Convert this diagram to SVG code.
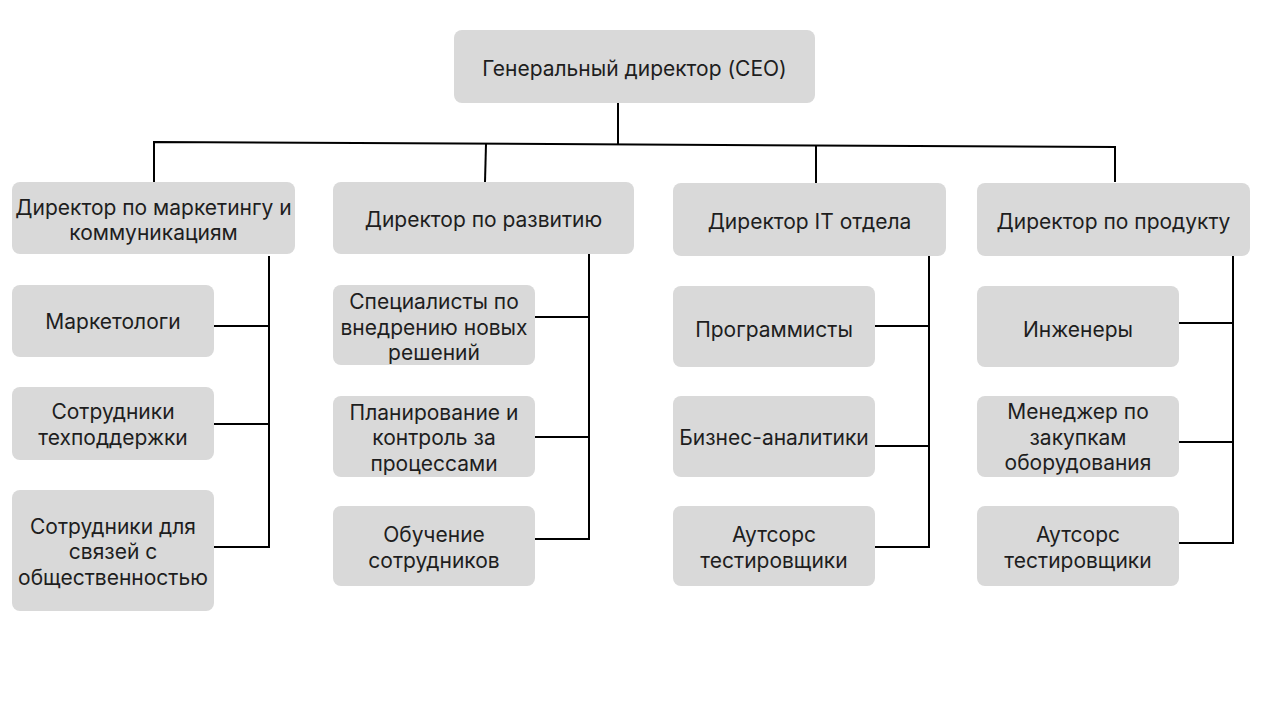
<svg xmlns="http://www.w3.org/2000/svg" width="1265" height="711" viewBox="0 0 1265 711">
<style>
.box{fill:#d9d9d9}
text{font-family:Inter,"Liberation Sans",sans-serif;font-size:21px;fill:#1e1e1e;text-anchor:middle}
.ln{stroke:#000;stroke-width:2;fill:none}
</style>
<rect width="1265" height="711" fill="#fff"/>
<g id="connectors">
<polyline class="ln" points="618,103 618,144"/>
<polyline class="ln" points="154,182 154,142 1115,147 1115,182"/>
<line class="ln" x1="486" y1="144" x2="485" y2="182"/>
<line class="ln" x1="816" y1="146" x2="816" y2="183"/>
<polyline class="ln" points="269,256 269,547 214,547"/>
<line class="ln" x1="214" y1="326" x2="269" y2="326"/>
<line class="ln" x1="214" y1="424" x2="269" y2="424"/>
<polyline class="ln" points="589,248 589,539 535,539"/>
<line class="ln" x1="535" y1="317" x2="589" y2="317"/>
<line class="ln" x1="535" y1="437" x2="589" y2="437"/>
<polyline class="ln" points="929,256 929,547 875,547"/>
<line class="ln" x1="875" y1="326" x2="929" y2="326"/>
<line class="ln" x1="875" y1="446" x2="929" y2="446"/>
<polyline class="ln" points="1233,253 1233,543 1179,543"/>
<line class="ln" x1="1179" y1="323" x2="1233" y2="323"/>
<line class="ln" x1="1179" y1="442" x2="1233" y2="442"/>
</g>
<g id="ceo"><rect class="box" x="454" y="30" width="361" height="73" rx="8"/><text x="634.5" y="76">Генеральный директор (CEO)</text></g>
<g id="dir-marketing"><rect class="box" x="12" y="182" width="283" height="72" rx="8"/><text x="153.5" y="215">Директор по маркетингу и</text><text x="153.5" y="240">коммуникациям</text></g>
<g id="marketologi"><rect class="box" x="12" y="285" width="202" height="72" rx="8"/><text x="113" y="329">Маркетологи</text></g>
<g id="support"><rect class="box" x="12" y="387" width="202" height="73" rx="8"/><text x="113" y="419">Сотрудники</text><text x="113" y="445">техподдержки</text></g>
<g id="pr"><rect class="box" x="12" y="490" width="202" height="121" rx="8"/><text x="113" y="534">Сотрудники для</text><text x="113" y="559">связей с</text><text x="113" y="585">общественностью</text></g>
<g id="dir-dev"><rect class="box" x="333" y="182" width="301" height="72" rx="8"/><text x="483.5" y="227">Директор по развитию</text></g>
<g id="specialists"><rect class="box" x="333" y="285" width="202" height="80" rx="8"/><text x="434" y="309">Специалисты по</text><text x="434" y="335">внедрению новых</text><text x="434" y="360">решений</text></g>
<g id="planning"><rect class="box" x="333" y="396" width="202" height="81" rx="8"/><text x="434" y="420">Планирование и</text><text x="434" y="445">контроль за</text><text x="434" y="471">процессами</text></g>
<g id="training"><rect class="box" x="333" y="506" width="202" height="80" rx="8"/><text x="434" y="542">Обучение</text><text x="434" y="568">сотрудников</text></g>
<g id="dir-it"><rect class="box" x="673" y="183" width="273" height="73" rx="8"/><text x="809.5" y="229">Директор IT отдела</text></g>
<g id="programmers"><rect class="box" x="673" y="286" width="202" height="81" rx="8"/><text x="774" y="337">Программисты</text></g>
<g id="analysts"><rect class="box" x="673" y="396" width="202" height="81" rx="8"/><text x="774" y="445">Бизнес-аналитики</text></g>
<g id="outsource-it"><rect class="box" x="673" y="506" width="202" height="80" rx="8"/><text x="774" y="542">Аутсорс</text><text x="774" y="568">тестировщики</text></g>
<g id="dir-product"><rect class="box" x="977" y="183" width="273" height="73" rx="8"/><text x="1113.5" y="229">Директор по продукту</text></g>
<g id="engineers"><rect class="box" x="977" y="286" width="202" height="81" rx="8"/><text x="1078" y="337">Инженеры</text></g>
<g id="procurement"><rect class="box" x="977" y="396" width="202" height="81" rx="8"/><text x="1078" y="419">Менеджер по</text><text x="1078" y="445">закупкам</text><text x="1078" y="470">оборудования</text></g>
<g id="outsource-product"><rect class="box" x="977" y="506" width="202" height="80" rx="8"/><text x="1078" y="542">Аутсорс</text><text x="1078" y="568">тестировщики</text></g>
</svg>
